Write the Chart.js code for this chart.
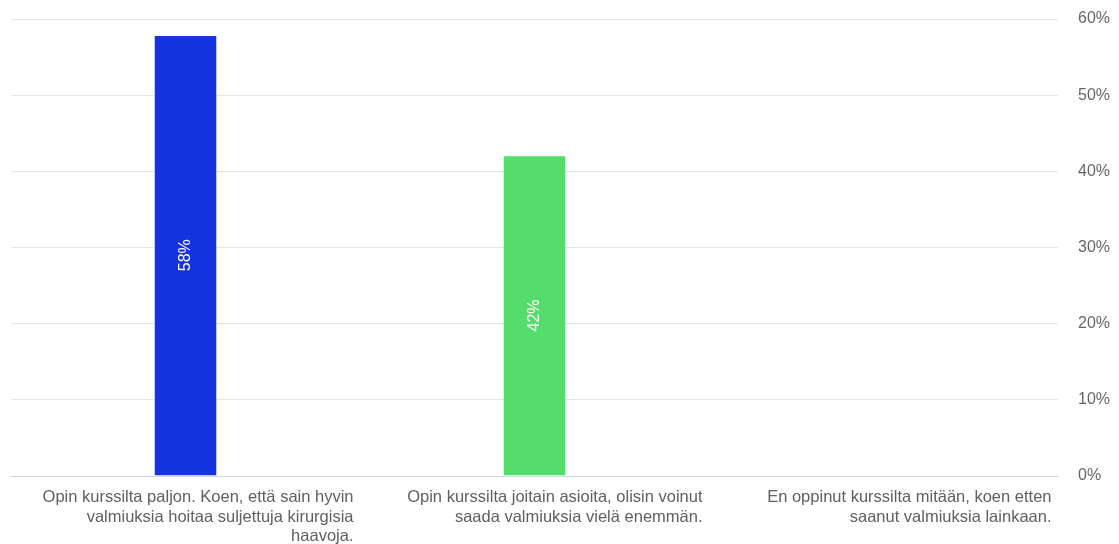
<!DOCTYPE html>
<html>
<head>
<meta charset="utf-8">
<script src="https://cdn.jsdelivr.net/npm/chart.js@4"></script>
<style>
  html, body { margin: 0; padding: 0; background: #fff; }
  #wrap { width: 1119px; height: 544px; }
</style>
</head>
<body>
<div id="wrap"><canvas id="chart"></canvas></div>
<script>
// kategoriat (x-akselin tekstit rivitettyinä)
const categories = [
    ["Opin kurssilta paljon. Koen, että sain hyvin", "valmiuksia hoitaa suljettuja kirurgisia", "haavoja."],
    ["Opin kurssilta joitain asioita, olisin voinut", "saada valmiuksia vielä enemmän."],
    ["En oppinut kurssilta mitään, koen etten", "saanut valmiuksia lainkaan."]
];
const values = [57.9, 42.1, 0];
const barLabels = ["58%", "42%", ""];
const barColors = ["#1533de", "#55dd6b", "#7cb5ec"];
const yTicks = [0, 10, 20, 30, 40, 50, 60];

// tekstit pylväiden sisään pystyyn
const barLabelPlugin = {
    id: 'barLabels',
    afterDatasetsDraw(chart) {
        let ctx = chart.ctx;
        let meta = chart.getDatasetMeta(0);
        meta.data.forEach(function (bar, i) {
            if (!barLabels[i]) return;
            let cy = (bar.y + bar.base) / 2;
            ctx.save();
            ctx.translate(bar.x, cy);
            ctx.rotate(-Math.PI / 2);
            ctx.font = '16px "Liberation Sans", Arial, sans-serif';
            ctx.fillStyle = '#ffffff';
            ctx.textAlign = 'center';
            ctx.textBaseline = 'middle';
            ctx.fillText(barLabels[i], 0, 0);
            ctx.restore();
        });
    }
};

function createChart() {
    const config = {
        type: 'bar',
        data: {
            labels: categories,
            datasets: [{
                data: values,
                backgroundColor: barColors,
                borderColor: 'rgba(255,255,255,0.45)',
                borderWidth: 1,
                barPercentage: 1,
                categoryPercentage: 0.182
            }]
        },
        options: {
            responsive: false,
            animation: false,
            layout: {
                padding: { top: 19, left: 11, right: 9, bottom: 0 }
            },
            plugins: {
                legend: { display: false },
                tooltip: { enabled: false }
            },
            scales: {
                x: {
                    grid: { display: false },
                    border: { display: true, color: '#ccd6eb', width: 1 },
                    ticks: {
                        autoSkip: false,
                        maxRotation: 0,
                        minRotation: 0,
                        align: 'end',
                        labelOffset: 168,
                        padding: 4,
                        color: '#606060',
                        font: { family: '"Liberation Sans", Arial, sans-serif', size: 16.5, lineHeight: 1.18 }
                    },
                    afterFit: function (scale) {
                        scale.height = 68;
                        scale.paddingLeft = 0;
                        scale.paddingRight = 0;
                    }
                },
                y: {
                    position: 'right',
                    min: 0,
                    max: 60,
                    afterBuildTicks: function (scale) {
                        scale.ticks = yTicks.map(v => ({ value: v }));
                    },
                    afterFit: function (scale) {
                        scale.width = 52;
                        scale.paddingTop = 0;
                        scale.paddingBottom = 0;
                    },
                    grid: {
                        drawTicks: false,
                        color: function (c) { return c.tick && c.tick.value === 0 ? '#ccd6eb' : '#e6e6e6'; }
                    },
                    border: { display: false },
                    ticks: {
                        padding: 20,
                        color: '#666666',
                        font: { family: '"Liberation Sans", Arial, sans-serif', size: 16 },
                        callback: function (v) { return v + '%'; }
                    }
                }
            }
        },
        plugins: [barLabelPlugin]
    };
    let canvas = document.getElementById('chart');
    canvas.width = 1119;
    canvas.height = 544;
    let ctx = canvas.getContext("2d");
    new Chart(ctx, config);
}
document.addEventListener("DOMContentLoaded", () => {
    createChart();
});
</script>
</body>
</html>
